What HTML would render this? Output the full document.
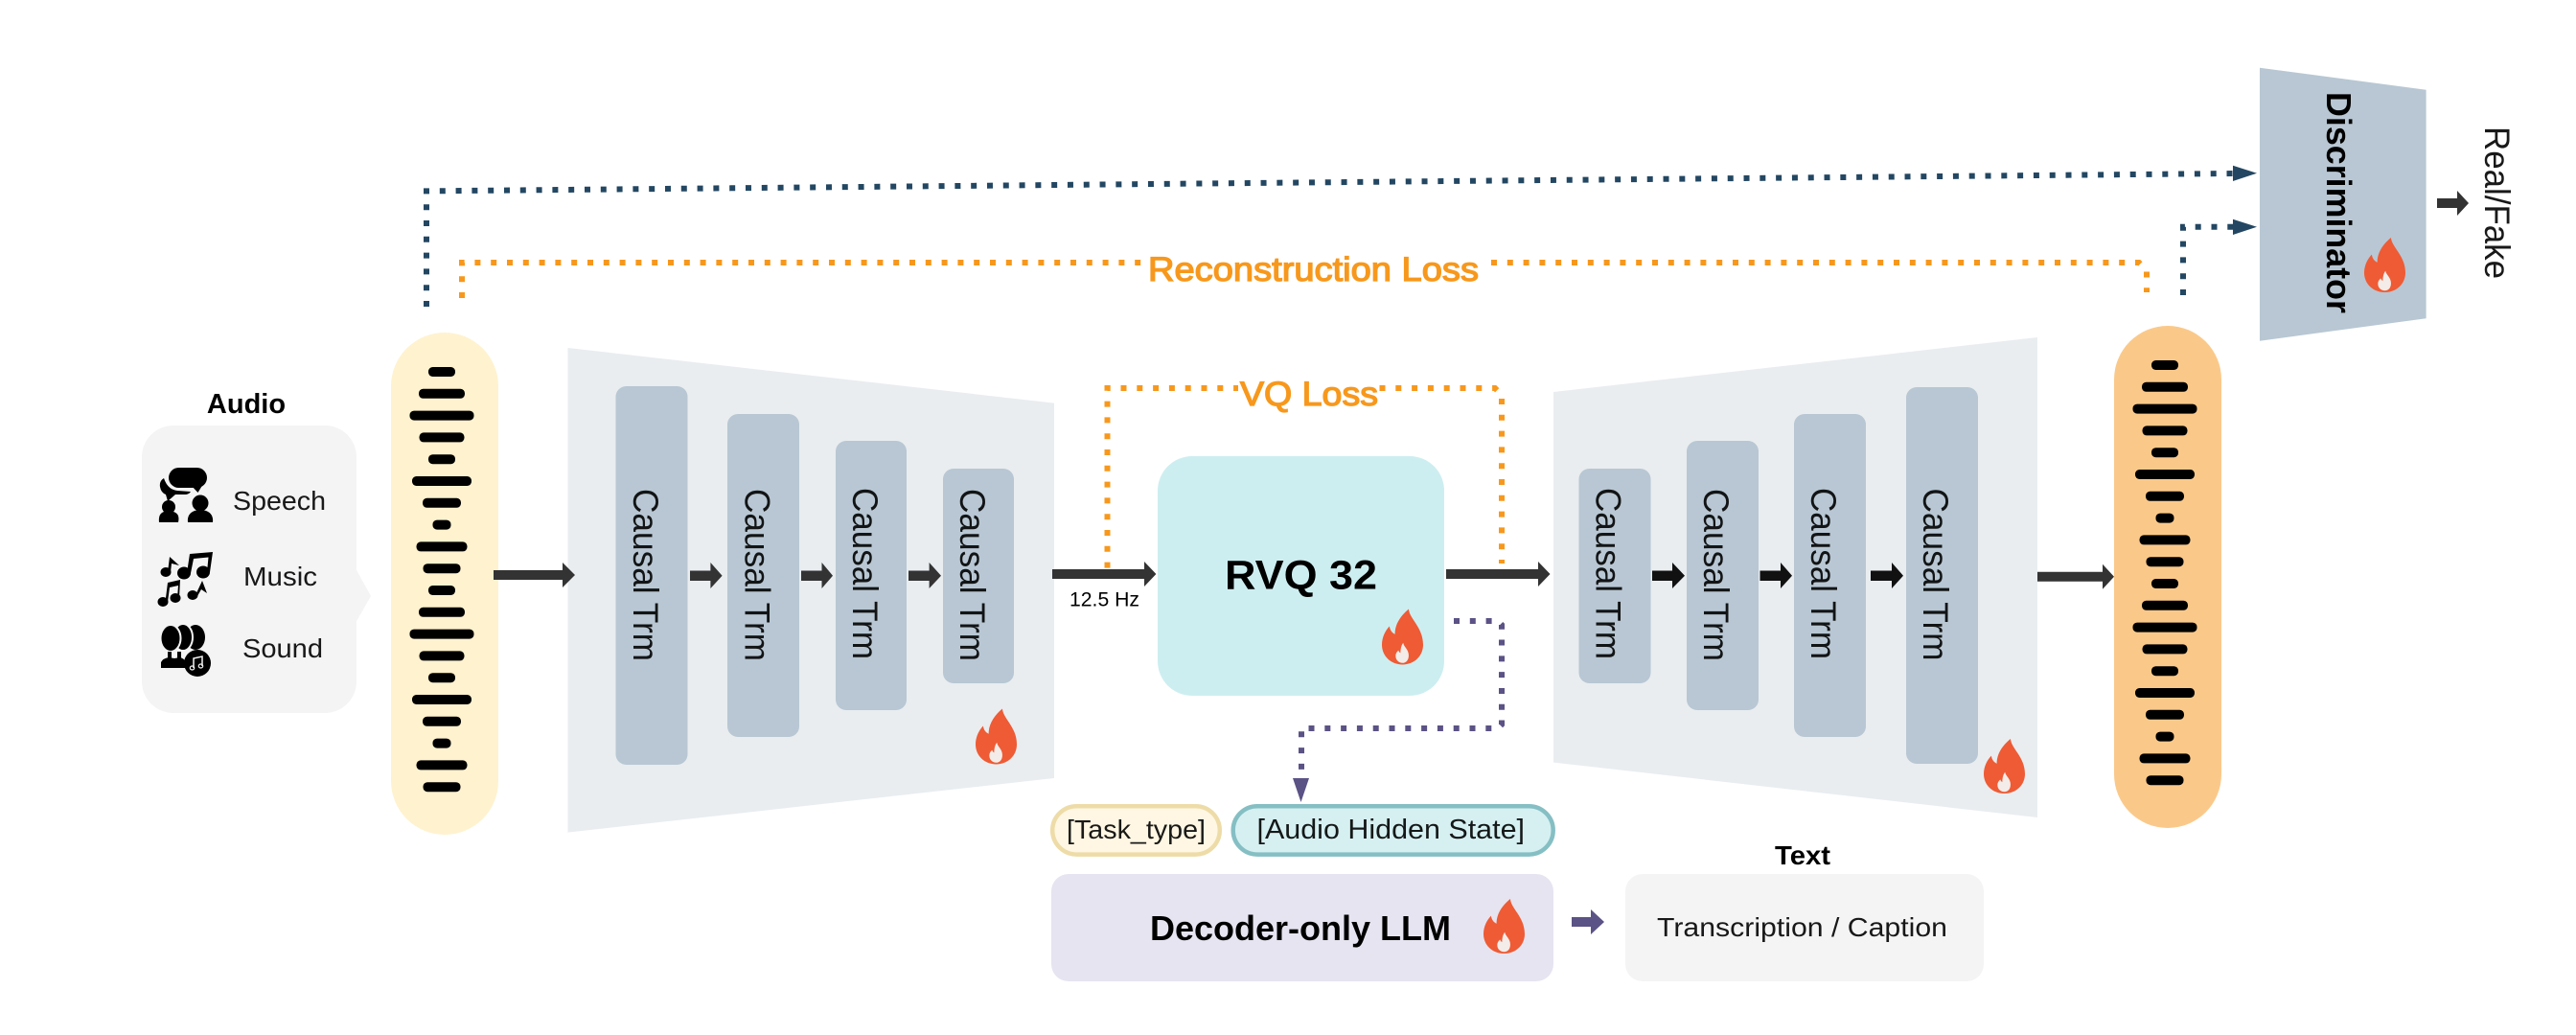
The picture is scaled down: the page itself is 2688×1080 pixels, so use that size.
<!DOCTYPE html>
<html><head><meta charset="utf-8"><style>
html,body{margin:0;padding:0;background:#fff}
svg{display:block}
text{font-family:"Liberation Sans",sans-serif;fill:#000}
.b{font-weight:bold}
.o{fill:#F7981C;stroke:#F7981C;stroke-width:1.3}
.d{fill:none;stroke-width:6;stroke-dasharray:6 10.8}
</style></head><body>
<svg width="2688" height="1080" viewBox="0 0 2688 1080" xmlns="http://www.w3.org/2000/svg">
<defs>
<symbol id="flame" viewBox="0 0 120 168" preserveAspectRatio="none">
<path fill="#EE5B35" d="M78 0C80 30 120 55 120 108C120 142 94 168 60 168C26 168 0 142 0 108C0 85 10 65 22 52C24 65 30 72 38 76C38 45 55 20 78 0Z"/>
<path fill="#F3ECE8" d="M62 102C64 115 78 122 78 140C78 155 70 163 60 163C50 163 40 155 40 142C40 132 46 128 48 125C50 130 52 132 54 133C54 122 56 110 62 102Z"/>
</symbol>
<g id="wave" fill="#000">
<rect x="-14" y="-5" width="28" height="10" rx="4.5"/><rect x="-24" y="17.8" width="48" height="10" rx="4.5"/><rect x="-33.5" y="40.6" width="67" height="10" rx="4.5"/><rect x="-23.5" y="63.4" width="47" height="10" rx="4.5"/><rect x="-14" y="86.2" width="28" height="10" rx="4.5"/><rect x="-31" y="109" width="62" height="10" rx="4.5"/><rect x="-20" y="131.8" width="40" height="10" rx="4.5"/><rect x="-9.5" y="154.6" width="19" height="10" rx="4.5"/><rect x="-26.5" y="177.4" width="53" height="10" rx="4.5"/><rect x="-19.5" y="200.2" width="39" height="10" rx="4.5"/>
<rect x="-14" y="223" width="28" height="10" rx="4.5"/><rect x="-24" y="245.8" width="48" height="10" rx="4.5"/><rect x="-33.5" y="268.6" width="67" height="10" rx="4.5"/><rect x="-23.5" y="291.4" width="47" height="10" rx="4.5"/><rect x="-14" y="314.2" width="28" height="10" rx="4.5"/><rect x="-31" y="337" width="62" height="10" rx="4.5"/><rect x="-20" y="359.8" width="40" height="10" rx="4.5"/><rect x="-9.5" y="382.6" width="19" height="10" rx="4.5"/><rect x="-26.5" y="405.4" width="53" height="10" rx="4.5"/><rect x="-19.5" y="428.2" width="39" height="10" rx="4.5"/>
</g>
</defs>

<!-- Audio box -->
<rect x="148" y="444" width="224" height="300" rx="33" fill="#F4F4F5"/>
<polygon points="371,593 387,622 371,650" fill="#F4F4F5"/>
<text class="b" x="257" y="431" font-size="29" text-anchor="middle">Audio</text>
<text x="243" y="532" font-size="28" textLength="97" lengthAdjust="spacingAndGlyphs" fill-opacity=".9">Speech</text>
<text x="254" y="611" font-size="28" textLength="77" lengthAdjust="spacingAndGlyphs" fill-opacity=".9">Music</text>
<text x="253" y="686" font-size="28" textLength="84" lengthAdjust="spacingAndGlyphs" fill-opacity=".9">Sound</text>

<!-- Speech icon -->
<g fill="#000">
<path d="M171 499q-5 3-4 9t6 8l2 7 8-7h10q4 0 6-3l-14-1q-10-1-14-13z"/>
<rect x="176" y="488" width="40" height="21" rx="10.5"/>
<polygon points="198,505 212,505 206.500,514"/>
<circle cx="176" cy="529" r="7"/>
<path d="M166 545q-1-9 5-11q5-2 10 0q7 2 5 11z"/>
<circle cx="209" cy="525" r="8.500"/>
<path d="M196 545q-1-9 7-12q6-2 12 0q8 3 7 12z"/>
</g>
<!-- Music icon -->
<g fill="#000">
<ellipse cx="173" cy="597" rx="5.500" ry="5"/><ellipse cx="192" cy="598" rx="7" ry="6.500"/><ellipse cx="212" cy="597" rx="7" ry="6.500"/>
<ellipse cx="170" cy="628" rx="5.500" ry="5"/><ellipse cx="183" cy="624" rx="5.500" ry="5"/><ellipse cx="201" cy="621" rx="5.500" ry="5"/>
<polygon points="195,598 198,578 222,576 219,597 216,597 217.500,581.500 202,583 199,598"/>
<polygon points="172.500,628 175,608 188,605 187,624 185,624 186,611 177,613 175,628"/>
<polygon points="175,597 177,581 187,590 179,588 178,597"/>
<polygon points="204,621 211,606 216,619 210,615 206,622"/>
</g>
<!-- Sound icon -->
<g>
<ellipse cx="204" cy="665" rx="10" ry="13" fill="#000"/>
<ellipse cx="191" cy="665" rx="10" ry="14" fill="#000" stroke="#F4F4F5" stroke-width="2"/>
<ellipse cx="178" cy="666" rx="10.500" ry="14" fill="#000" stroke="#F4F4F5" stroke-width="2"/>
<rect x="175" y="680" width="4" height="7" fill="#000"/><rect x="185" y="680" width="4" height="7" fill="#000"/>
<path d="M168 697v-6q2-4 8-5l6 1 6-1q4 1 6 5v6z" fill="#000"/>
<circle cx="206" cy="692" r="14" fill="#000"/>
<path d="M202 697v-10l9-2v10" fill="none" stroke="#F4F4F5" stroke-width="1.500"/>
<ellipse cx="200.500" cy="697" rx="2.200" ry="2" fill="none" stroke="#F4F4F5" stroke-width="1.200"/>
<ellipse cx="209.500" cy="695" rx="2.200" ry="2" fill="none" stroke="#F4F4F5" stroke-width="1.200"/>
</g>

<!-- Input pill -->
<rect x="408" y="347" width="112" height="524" rx="56" fill="#FFF2CF"/>
<use href="#wave" x="461" y="388"/>

<!-- Encoder -->
<polygon points="592.5,363 1100,420.6 1100,812 592.5,868.6" fill="#E9EDF0"/>
<g fill="#B8C7D3">
<rect x="642.5" y="403" width="75" height="395" rx="11"/>
<rect x="759" y="432" width="75" height="337" rx="11"/>
<rect x="872" y="460" width="74" height="281" rx="11"/>
<rect x="984" y="489" width="74" height="224" rx="11"/>
</g>
<g font-size="37" fill-opacity=".9">
<text transform="translate(661,510) rotate(90)" textLength="180" lengthAdjust="spacingAndGlyphs">Causal Trm</text>
<text transform="translate(777.5,510) rotate(90)" textLength="180" lengthAdjust="spacingAndGlyphs">Causal Trm</text>
<text transform="translate(890,509) rotate(90)" textLength="179" lengthAdjust="spacingAndGlyphs">Causal Trm</text>
<text transform="translate(1002,510) rotate(90)" textLength="180" lengthAdjust="spacingAndGlyphs">Causal Trm</text>
</g>
<use href="#flame" x="1018" y="739.5" width="43" height="58"/>

<g fill="#333">
<polygon points="515,595 587,595 587,587 600,600 587,613 587,605 515,605"/>
<polygon points="720,595.500 741.400,595.500 741.400,587 753.600,600.700 741.400,614 741.400,606 720,606"/>
<polygon points="836,595.500 857.500,595.500 857.500,587 869,600.700 857.500,614 857.500,606 836,606"/>
<polygon points="948,595.500 969.600,595.500 969.600,587 982,600.700 969.600,614 969.600,606 948,606"/>
<polygon points="1098,594 1194,594 1194,586 1206.400,599 1194,612 1194,604 1098,604"/>
<polygon points="1509,594 1605,594 1605,586 1617.500,599 1605,612 1605,604 1509,604"/>
<polygon points="2121.6,596.700 2194,596.700 2194,588.700 2206,601.700 2194,614.700 2194,606.700 2121.6,606.700"/>
<polygon points="2543,207 2564,207 2564,199 2576,212 2564,225 2564,217 2543,217"/>
</g>
<text x="1116" y="632.5" font-size="21" textLength="73" lengthAdjust="spacingAndGlyphs">12.5 Hz</text>

<!-- RVQ -->
<rect x="1208" y="476" width="299" height="250" rx="36" fill="#CDEEF0"/>
<text class="b" x="1278" y="614.5" font-size="43" textLength="159" lengthAdjust="spacingAndGlyphs">RVQ 32</text>
<use href="#flame" x="1442" y="635.5" width="43" height="58"/>

<!-- VQ loss -->
<path class="d" stroke="#F7981C" d="M1155.5 592.6V405H1292"/>
<path class="d" stroke="#F7981C" d="M1439.5 405H1560L1567 412V588"/>
<text class="o" x="1294" y="423" font-size="35" textLength="144" lengthAdjust="spacingAndGlyphs">VQ Loss</text>

<!-- Purple dotted -->
<path class="d" stroke="#5B5285" d="M1517 648H1563L1567 652V756L1563 760H1358V812"/>
<polygon points="1349,812 1366,812 1357.5,837" fill="#5B5285"/>

<!-- Decoder -->
<polygon points="1621,409 2126,352 2126,853 1621,795.6" fill="#E9EDF0"/>
<g fill="#B8C7D3">
<rect x="1647.5" y="489" width="75" height="224" rx="11"/>
<rect x="1760" y="460" width="75" height="281" rx="11"/>
<rect x="1872" y="432" width="75" height="337" rx="11"/>
<rect x="1989" y="404" width="75" height="393" rx="11"/>
</g>
<g font-size="37" fill-opacity=".9">
<text transform="translate(1665.4,509) rotate(90)" textLength="179" lengthAdjust="spacingAndGlyphs">Causal Trm</text>
<text transform="translate(1778,510) rotate(90)" textLength="180" lengthAdjust="spacingAndGlyphs">Causal Trm</text>
<text transform="translate(1890,509) rotate(90)" textLength="179" lengthAdjust="spacingAndGlyphs">Causal Trm</text>
<text transform="translate(2007,509.5) rotate(90)" textLength="180" lengthAdjust="spacingAndGlyphs">Causal Trm</text>
</g>
<g fill="#111">
<polygon points="1724,595.500 1745,595.500 1745,587 1758,600.700 1745,614 1745,606 1724,606"/>
<polygon points="1836.5,595.500 1858,595.500 1858,587 1870,600.700 1858,614 1858,606 1836.5,606"/>
<polygon points="1952,595.500 1974,595.500 1974,587 1986,600.700 1974,614 1974,606 1952,606"/>
</g>
<use href="#flame" x="2070" y="771" width="43" height="57"/>

<!-- Output pill -->
<rect x="2206" y="340" width="112" height="524" rx="56" fill="#FAC98A"/>
<use href="#wave" x="2259" y="381"/>

<!-- Discriminator -->
<polygon points="2358,70.7 2531.6,93.7 2531.6,332.3 2358,355.7" fill="#B8C7D3"/>
<text class="b" transform="translate(2428,96) rotate(90)" font-size="36" textLength="231" lengthAdjust="spacingAndGlyphs">Discriminator</text>
<use href="#flame" x="2467" y="248" width="43" height="57"/>
<text transform="translate(2593,132) rotate(90)" font-size="37" textLength="159" lengthAdjust="spacingAndGlyphs" fill-opacity=".9">Real/Fake</text>

<!-- Blue dotted -->
<path class="d" stroke="#234762" d="M445 320V199.4L2330 181"/>
<polygon points="2330,172.700 2355,180.700 2330,189" fill="#234762"/>
<path class="d" stroke="#234762" d="M2278 308V236.7H2330"/>
<polygon points="2330,228.700 2355,236.700 2330,245" fill="#234762"/>

<!-- Reconstruction loss -->
<path class="d" stroke="#F7981C" d="M482 311V274H1192"/>
<path class="d" stroke="#F7981C" d="M1556 274H2232L2240 282V305"/>
<text class="o" x="1198" y="293" font-size="35" textLength="345" lengthAdjust="spacingAndGlyphs">Reconstruction Loss</text>

<!-- Pills -->
<rect x="1098.2" y="841.2" width="174.6" height="50.4" rx="25.2" fill="#FFF7E3" stroke="#EEDCA8" stroke-width="4.5"/>
<rect x="1286.7" y="841.2" width="334" height="50.4" rx="25.2" fill="#D6F0F2" stroke="#85BFC4" stroke-width="4.5"/>
<text x="1113" y="875" font-size="28" textLength="145" lengthAdjust="spacingAndGlyphs" fill-opacity=".9">[Task_type]</text>
<text x="1311.5" y="875" font-size="29" textLength="279.5" lengthAdjust="spacingAndGlyphs" fill-opacity=".9">[Audio Hidden State]</text>

<!-- LLM -->
<rect x="1097" y="912" width="524" height="112" rx="18" fill="#E6E4F0"/>
<text class="b" x="1200" y="981" font-size="36" textLength="314" lengthAdjust="spacingAndGlyphs">Decoder-only LLM</text>
<use href="#flame" x="1548" y="938" width="43" height="57"/>
<polygon points="1640,957 1660,957 1660,949 1674,962 1660,975 1660,967 1640,967" fill="#5B5285"/>

<!-- Text box -->
<text class="b" x="1852" y="902" font-size="28" textLength="58" lengthAdjust="spacingAndGlyphs">Text</text>
<rect x="1696" y="912" width="374" height="112" rx="18" fill="#F4F4F5"/>
<text x="1729" y="977" font-size="28" textLength="303" lengthAdjust="spacingAndGlyphs" fill-opacity=".9">Transcription / Caption</text>
</svg>
</body></html>
